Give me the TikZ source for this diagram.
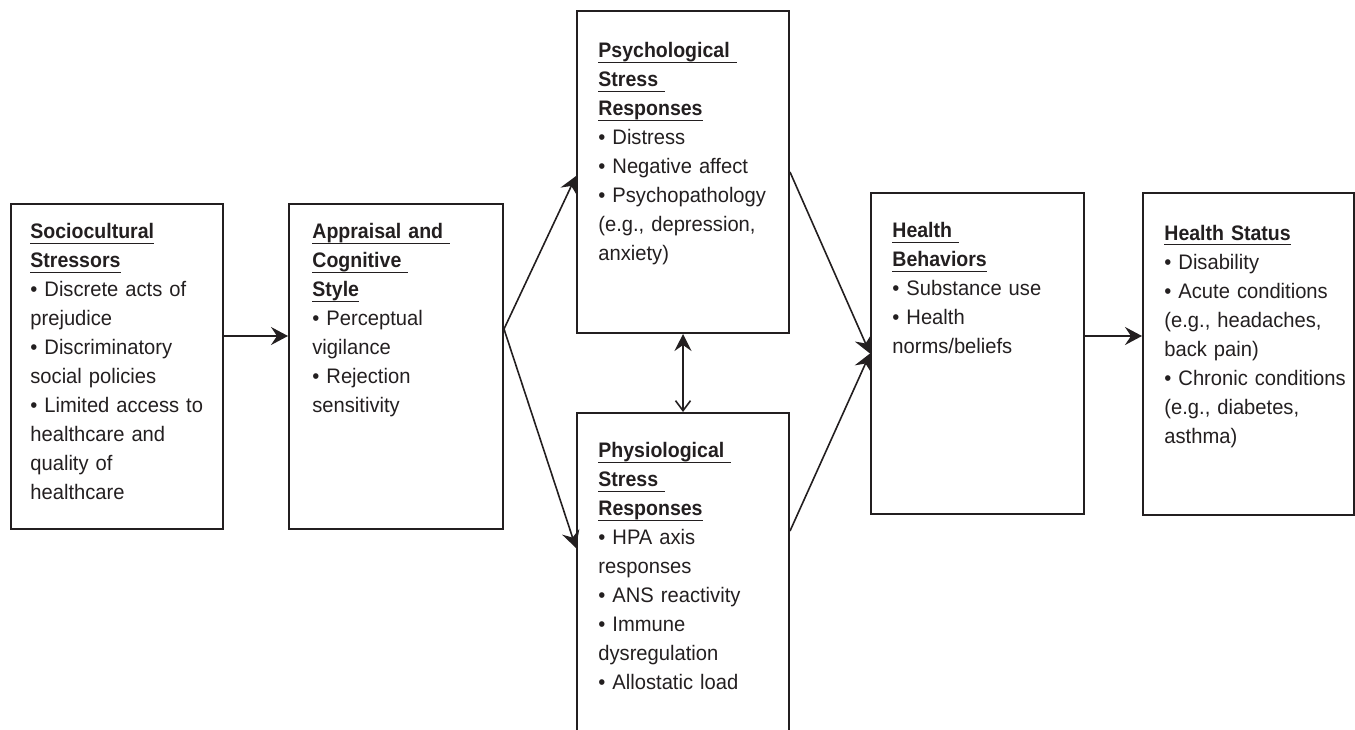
\documentclass[tikz,border=0pt]{standalone}
\usepackage{fontspec}
\setmainfont{Liberation Sans}[FakeStretch=0.96, BoldFeatures={FakeStretch=0.93}]
\usetikzlibrary{arrows.meta,positioning}

\definecolor{ink}{HTML}{231F20}
\newcommand{\hd}[1]{\underline{\raisebox{0pt}[\height][0pt]{\bfseries #1}\rule[-0.8pt]{0pt}{0pt}}}

\tikzstyle{stage} = [draw=ink, line width=1pt, rectangle, anchor=north west,
    minimum width=106pt, inner sep=0pt]
\tikzstyle{stagetext} = [anchor=north west, inner sep=0pt, align=left,
    text width=100pt, text=ink, font=\fontsize{10.5}{14.5}\selectfont]
\tikzstyle{flow} = [draw=ink, line width=0.8pt, -{Stealth[length=8.5pt,width=9pt,inset=3pt]}]

\begin{document}
\begin{tikzpicture}[x=0.5pt, y=-0.5pt]
    \useasboundingbox (0,0) rectangle (1355,729);
    \clip (0,0) rectangle (1355,729);
    % boxes
    \node [stage, minimum height=162.5pt] (socio) at (10,203) {};
    \node [stage, minimum width=107pt, minimum height=162.5pt, right=32pt of socio] (apprais) {};
    \node [stage, minimum height=161pt] (psych) at (576,10) {};
    \node [stage, minimum height=166pt] (physio) at (576,412) {};
    \node [stage, minimum width=106.5pt, minimum height=160.5pt] (hb) at (870,192) {};
    \node [stage, minimum width=105.5pt, minimum height=161pt, right=28.5pt of hb] (status) {};
    % texts
    \node [stagetext] (socio-txt) at ([shift={(20,20)}]socio.north west)
        {\hd{Sociocultural}\\ \hd{Stressors}\\ • Discrete acts of\\ prejudice\\
         • Discriminatory\\ social policies\\ • Limited access to\\ healthcare and\\
         quality of\\ healthcare};
    \node [stagetext] (apprais-txt) at ([shift={(24,20)}]apprais.north west)
        {\hd{Appraisal and\ }\\ \hd{Cognitive\ }\\ \hd{Style}\\ • Perceptual\\
         vigilance\\ • Rejection\\ sensitivity};
    \node [stagetext] (psych-txt) at ([shift={(22,32)}]psych.north west)
        {\hd{Psychological\ }\\ \hd{Stress\ }\\ \hd{Responses}\\ • Distress\\
         • Negative affect\\ • Psychopathology\\ (e.g., depression,\\ anxiety)};
    \node [stagetext] (physio-txt) at ([shift={(22,30)}]physio.north west)
        {\hd{Physiological\ }\\ \hd{Stress\ }\\ \hd{Responses}\\ • HPA axis\\
         responses\\ • ANS reactivity\\ • Immune\\ dysregulation\\ • Allostatic load};
    \node [stagetext] (hb-txt) at ([shift={(22,30)}]hb.north west)
        {\hd{Health\ }\\ \hd{Behaviors}\\ • Substance use\\ • Health\\ norms/beliefs};
    \node [stagetext] (status-txt) at ([shift={(22,33)}]status.north west)
        {\hd{Health Status}\\ • Disability\\ • Acute conditions\\ (e.g., headaches,\\
         back pain)\\ • Chronic conditions\\ (e.g., diabetes,\\ asthma)};
    % arrows
    \draw [flow] ([yshift=15.25pt]socio.east) -- ([yshift=15.25pt]apprais.west);
    \coordinate (split) at ([yshift=18.75pt]apprais.east);
    \draw [flow] (split) -- ([yshift=-2pt]psych.west);
    \draw [flow] (split) -- ([yshift=15.5pt]physio.west);
    \draw [flow] (psych.east) -- (hb.west);
    \draw [flow] ([yshift=24pt]physio.east) -- (hb.west);
    \draw [flow] ([yshift=8.75pt]hb.east) coordinate (hbout) -- (status.west |- hbout);
    \draw [draw=ink, line width=0.8pt,
        {Stealth[length=8.5pt,width=8.5pt,inset=3pt]}-{Straight Barb[length=5pt,width=7.5pt]}]
        (psych.south) -- (physio.north);
\end{tikzpicture}
\end{document}
